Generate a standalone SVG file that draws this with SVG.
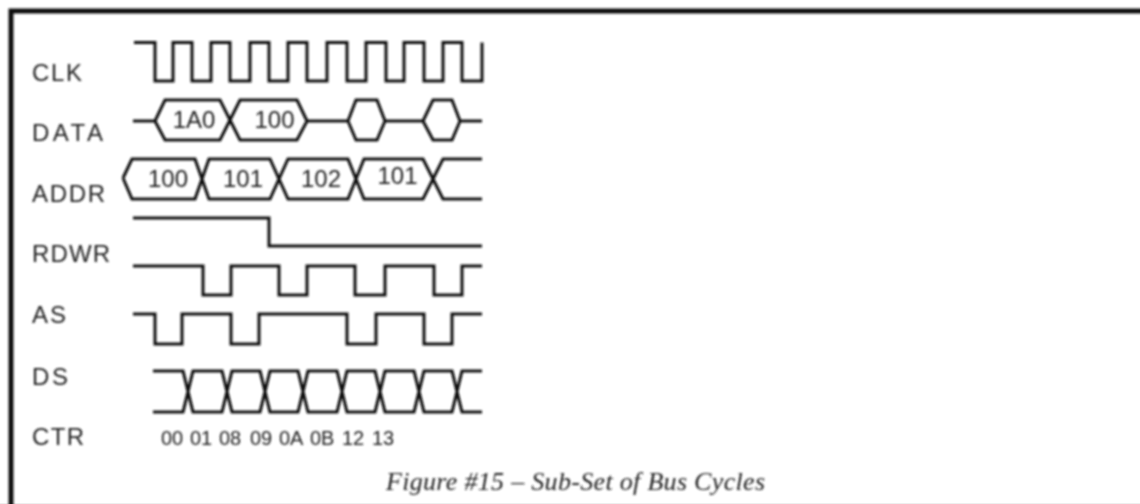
<svg xmlns="http://www.w3.org/2000/svg" width="1140" height="504" viewBox="0 0 1140 504">
<defs>
<filter id="soft" x="0" y="0" width="1140" height="504" filterUnits="userSpaceOnUse"><feGaussianBlur stdDeviation="0.8"/></filter>
</defs>
<style>
.sig{fill:none;stroke:#111;stroke-width:3;stroke-linejoin:miter}
.lab{font-family:"Liberation Sans",Arial,sans-serif;font-size:24px;fill:#222}
.val{font-family:"Liberation Sans",Arial,sans-serif;font-size:24px;fill:#222;text-anchor:middle}
.ctr{font-family:"Liberation Sans",Arial,sans-serif;font-size:20px;fill:#222}
.cap{font-family:"Liberation Serif","Times New Roman",serif;font-style:italic;font-size:26px;fill:#222}
</style>
<rect width="1140" height="504" fill="#fff"/>
<path d="M0 503.5H1140" stroke="#eee" stroke-width="1"/>
<g filter="url(#soft)">
<path id="frame" d="M11 510V11H1150" fill="none" stroke="#111" stroke-width="5"/>
<g id="connectors">
<path id="clk" class="sig" d="M134 42.5H155V81H173V42.5H192V81H211V42.5H230V81H250V42.5H269V81H288V42.5H307V81H327V42.5H347V81H366V42.5H386V81H404V42.5H424V81H443V42.5H462V81H482V42.5"/>
<path id="data" class="sig" d="M133 121H155L165 100H220L240 140H297L307 121H348L356 100H377L385 121H423L433 100H452L460 121H482M155 121L165 140H220L240 100H297L307 121M348 121L356 140H377L385 121M423 121L433 140H452L460 121"/>
<path id="addr" class="sig" d="M123 178L132 159H195L209 199H270L288 159H348L364 199H423L443 159H482M123 178L132 199H195L209 159H270L288 199H348L364 159H423L443 199H482"/>
<path id="rdwr" class="sig" d="M133 218H269V246H482"/>
<path id="as1" class="sig" d="M133 266H203V295H231V266H279V295H307V266H355V295H385V266H434V295H462V266H482"/>
<path id="as2" class="sig" d="M133 314H155V344H182V314H231V344H259V314H347V344H376V314H424V344H452V314H482"/>
<path id="ds" class="sig" d="M153 371H183L193 412H222L232 371H260L270 412H298L308 371H337L347 412H375L385 371H414L424 412H452L462 371H482M153 412H183L193 371H222L232 412H260L270 371H298L308 412H337L347 371H375L385 412H414L424 371H452L462 412H482"/>
</g>
<g id="labels">
<text class="lab" x="32" y="81" textLength="50">CLK</text>
<text class="lab" x="32" y="141" textLength="71">DATA</text>
<text class="lab" x="32" y="202" textLength="73">ADDR</text>
<text class="lab" x="32" y="262" textLength="78">RDWR</text>
<text class="lab" x="32" y="323" textLength="34">AS</text>
<text class="lab" x="32" y="385" textLength="36">DS</text>
<text class="lab" x="32" y="445" textLength="52">CTR</text>
</g>
<g id="values">
<text class="val" x="194" y="128">1A0</text>
<text class="val" x="274.5" y="128">100</text>
<text class="val" x="168" y="187">100</text>
<text class="val" x="243" y="187">101</text>
<text class="val" x="321" y="187">102</text>
<text class="val" x="397.5" y="184">101</text>
</g>
<g id="ctr">
<text class="ctr" x="161" y="445">00</text>
<text class="ctr" x="190" y="445">01</text>
<text class="ctr" x="219" y="445">08</text>
<text class="ctr" x="250" y="445">09</text>
<text class="ctr" x="279" y="445">0A</text>
<text class="ctr" x="310" y="445">0B</text>
<text class="ctr" x="342" y="445">12</text>
<text class="ctr" x="372" y="445">13</text>
</g>
<text id="caption" class="cap" x="386" y="490" textLength="379">Figure #15 – Sub-Set of Bus Cycles</text>
</g>
</svg>
